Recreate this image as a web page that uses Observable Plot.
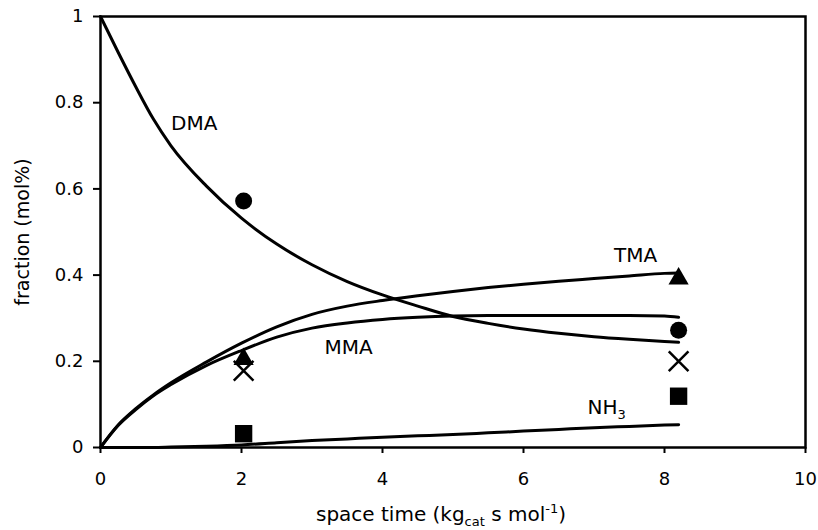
<!DOCTYPE html>
<html><head><meta charset="utf-8">
<script src="https://cdn.jsdelivr.net/npm/d3@7"></script>
<script src="https://cdn.jsdelivr.net/npm/@observablehq/plot@0.6"></script>
<style>
body{margin:0;background:#fff}
#chart svg{font-family:"DejaVu Sans",Arial,Helvetica,sans-serif}
#chart g[aria-label="y-axis tick label"] text,
#chart g[aria-label="x-axis tick label"] text{font-size:18px}
#chart g[aria-label="x-axis label"] text{font-size:20px}
#chart g[aria-label="y-axis label"] text{font-size:19px}
</style>
</head><body><div id="chart"></div>
<script>
// model curves (space time grid)
const xGrid = [0, 0.25, 0.5, 0.75, 1, 1.5, 2, 2.5, 3, 3.5, 4, 4.5, 5, 5.5, 6, 6.5, 7, 7.5, 8, 8.2];
const dmaCurve = [1, 0.917, 0.837, 0.762, 0.70, 0.607, 0.532, 0.472, 0.424, 0.385, 0.354, 0.328, 0.304, 0.288, 0.275, 0.265, 0.257, 0.251, 0.246, 0.244];
const tmaCurve = [0, 0.052, 0.09, 0.122, 0.15, 0.198, 0.242, 0.28, 0.309, 0.328, 0.341, 0.352, 0.362, 0.371, 0.379, 0.386, 0.392, 0.398, 0.404, 0.405];
const mmaCurve = [0, 0.051, 0.088, 0.12, 0.146, 0.19, 0.225, 0.256, 0.277, 0.289, 0.297, 0.302, 0.305, 0.306, 0.306, 0.306, 0.306, 0.306, 0.305, 0.302];
const nh3Curve = [0, 0, 0, 0, 0.001, 0.003, 0.006, 0.011, 0.016, 0.02, 0.024, 0.027, 0.03, 0.034, 0.038, 0.042, 0.046, 0.049, 0.052, 0.053];
const seriesNames = ["DMA", "TMA", "MMA", "NH3"];
const seriesCurves = [dmaCurve, tmaCurve, mmaCurve, nh3Curve];

// experimental points
const pointX = [2.03, 8.2];
const dmaPts = [0.572, 0.272];   // circles
const tmaPts = [0.205, 0.392];   // triangles
const mmaPts = [0.178, 0.2];     // crosses
const nh3Pts = [0.032, 0.119];   // squares

// curve labels
const labelText = ["DMA", "TMA", "MMA", "NH3"];
const labelX = [1.33, 7.59, 3.52, 7.18];
const labelY = [0.751, 0.446, 0.232, 0.092];

// axes
const xTicks = [0, 2, 4, 6, 8, 10];
const yTicks = [0, 0.2, 0.4, 0.6, 0.8, 1];
const xTitle = "space time (kgcat s mol-1)";
const yTitle = "fraction (mol%)";

const lineData = seriesNames.flatMap((s, i) => xGrid.map((x, j) => ({series: s, x, y: seriesCurves[i][j]})));
const pts = ys => pointX.map((x, i) => ({x, y: ys[i]}));
const labels = labelText.map((t, i) => ({t, x: labelX[i], y: labelY[i]}));

const chart = Plot.plot({
  width: 818, height: 530,
  marginLeft: 100, marginRight: 13, marginTop: 16, marginBottom: 83,
  style: {fontSize: "18px", color: "black", background: "white"},
  x: {domain: [0, 10]},
  y: {domain: [0, 1]},
  marks: [
    Plot.axisY({ticks: yTicks, tickFormat: d => String(d), tickSize: 7, tickPadding: 10, strokeWidth: 2, fontSize: 18,
      label: yTitle, labelAnchor: "center", labelArrow: "none", labelOffset: 85}),
    Plot.axisX({ticks: xTicks, tickFormat: d => String(d), tickSize: 6, tickPadding: 19, strokeWidth: 2, fontSize: 18,
      label: xTitle, labelAnchor: "center", labelArrow: "none", labelOffset: 73}),
    Plot.line(lineData, {x: "x", y: "y", z: "series", stroke: "black", strokeWidth: 3, curve: "monotone-x"}),
    Plot.dot(pts(dmaPts), {x: "x", y: "y", symbol: "circle", r: 8.5, fill: "black"}),
    Plot.dot(pts(tmaPts), {x: "x", y: "y", symbol: "triangle", r: 7.5, fill: "black"}),
    Plot.dot(pts(mmaPts), {x: "x", y: "y", symbol: "times", r: 9, stroke: "black", strokeWidth: 2.5, fill: "none"}),
    Plot.dot(pts(nh3Pts), {x: "x", y: "y", symbol: "square", r: 9.8, fill: "black"}),
    Plot.text(labels, {x: "x", y: "y", text: "t", fontSize: 20, fill: "black"}),
    Plot.frame({stroke: "black", strokeWidth: 2.5})
  ]
});
document.getElementById("chart").appendChild(chart);

// subscripts / superscripts
function rich(match, parts) {
  d3.select(chart).selectAll("text").filter(function () { return this.textContent.replace(/\s*[→←↑↓]\s*/g, "") === match; }).each(function () {
    const t = d3.select(this);
    t.text(null);
    parts.forEach(([s, opt]) => {
      const sp = t.append("tspan").text(s);
      if (opt) { if (opt.dy) sp.attr("dy", opt.dy); if (opt.fs) sp.style("font-size", opt.fs + "px"); }
    });
  });
}
rich(xTitle, [["space time (kg"], ["cat", {dy: 5, fs: 13}], [" s mol", {dy: -5}], ["-1", {dy: -8, fs: 13}], [")", {dy: 8}]]);
rich("NH3", [["NH"], ["3", {dy: 5, fs: 13}]]);
// x title sits slightly left of the plot centre in the original
d3.select(chart).selectAll('g[aria-label="x-axis label"]').each(function () {
  const g = d3.select(this);
  g.attr("transform", ((g.attr("transform") || "") + " translate(-12,0)").trim());
});
</script>
</body></html>
